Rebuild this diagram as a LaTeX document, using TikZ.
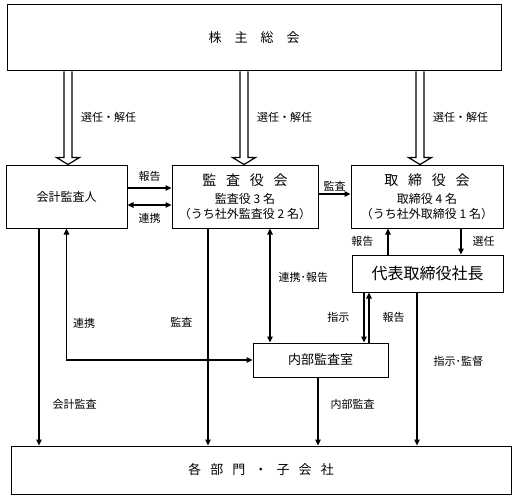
\documentclass[tikz,border=0pt]{standalone}
\usepackage{fontspec}
\setmainfont{Noto Sans CJK JP}
\usetikzlibrary{calc,arrows.meta}
\newcommand{\jg}{\hspace{.7em}}
\tikzset{
  arr/.tip={Triangle[length=6pt,width=5.5pt]},
  box/.style={draw, line width=1pt, align=center, inner sep=0pt, font=\fontsize{12}{15}\selectfont},
  conn/.style={line width=1.1pt, -arr},
  both/.style={line width=1.1pt, arr-arr},
  hollow/.style={draw, line width=1.2pt, fill=white},
  lab/.style={font=\fontsize{11}{13}\selectfont, inner sep=0pt},
}
\begin{document}
\begin{tikzpicture}[x=1pt, y=-1pt]
  \useasboundingbox (0,0) rectangle (516,500);

  % boxes
  \node[box, minimum width=494pt, minimum height=66pt, font=\fontsize{13}{15}\selectfont] (gm) at (254,38) {株　主　総　会};
  \node[box, minimum width=121pt, minimum height=63pt] (kaikei) at (66.5,196.5) {会計監査人};
  \node[box, minimum width=146pt, minimum height=63pt] (kansa) at (245,196.5)
    {{\fontsize{14}{16}\selectfont 監\jg 査\jg 役\jg 会}\\[3pt]監査役 3 名\\（うち社外監査役 2 名）};
  \node[box, minimum width=152pt, minimum height=63pt] (tori) at (427,196.5)
    {{\fontsize{14}{16}\selectfont 取\jg 締\jg 役\jg 会}\\[3pt]取締役 4 名\\（うち社外取締役 1 名）};
  \node[box, minimum width=151pt, minimum height=37pt, font=\fontsize{16}{18}\selectfont] (daihyo) at (427.5,273.5) {代表取締役社長};
  \node[box, minimum width=135pt, minimum height=34pt, font=\fontsize{13}{15}\selectfont] (naibu) at (320.5,360) {内部監査室};
  \node[box, minimum width=500pt, minimum height=48pt, font=\fontsize{13}{15}\selectfont] (bumon) at (261,470)
    {各\jg 部\jg 門\jg ・\jg 子\jg 会\jg 社};

  % hollow arrows from the general meeting
  \foreach \n/\dx in {kaikei/1.5, kansa/-1, tori/-7} {
    \coordinate (t) at ($(\n.north)+(\dx,0)$);
    \coordinate (top) at (t |- gm.south);
    \draw[hollow] ($(top)+(-4,0)$) -- ($(t)+(-4,-7)$) -- ($(t)+(-11.5,-7)$) -- (t)
      -- ($(t)+(11.5,-7)$) -- ($(t)+(4,-7)$) -- ($(top)+(4,0)$);
    \node[lab, anchor=west] (sel\n) at ($(t)+(13,-47)$) {選任・解任};
  }

  % auditor <-> board of auditors
  \draw[conn] ($(kaikei.east)+(0,-8.5)$) coordinate (r1) -- (r1 -| kansa.west)
    node[lab, midway, above=6pt] (l1) {報告};
  \draw[both] ($(kaikei.east)+(0,8.5)$) coordinate (r2) -- (r2 -| kansa.west)
    node[lab, midway, below=7.5pt] (l2) {連携};
  \draw[conn] ($(kansa.east)+(0,-2.5)$) coordinate (r3) -- (r3 -| tori.west)
    node[lab, midway, above=2pt] (l3) {監査};

  % board <-> president
  \draw[conn] ($(daihyo.north)+(-39.5,0)$) coordinate (r4) -- (r4 |- tori.south)
    node[lab, midway, left=14pt] (l4) {報告};
  \draw[conn] ($(tori.south)+(34,0)$) coordinate (r5) -- (r5 |- daihyo.north)
    node[lab, midway, right=11pt] (l5) {選任};

  % down to the departments
  \draw[conn] ($(kaikei.south)+(-27.5,0)$) coordinate (r6) -- (r6 |- bumon.north)
    node[lab, pos=0.81, right=13pt] (l6) {会計監査};
  \draw[both] (kaikei.south) |- (naibu.west)
    node[lab, pos=0.36, right=6pt] (l7) {連携};
  \draw[conn] ($(kansa.south)+(-37,0)$) coordinate (r7) -- (r7 |- bumon.north)
    node[lab, pos=0.43, left=15pt] (l8) {監査};
  \draw[both] ($(kansa.south)+(25,0)$) coordinate (r8) -- (r8 |- naibu.north)
    node[lab, pos=0.43, right=8pt] (l9) {連携･報告};

  % president <-> internal audit
  \draw[conn] ($(daihyo.south)+(-63.5,0)$) coordinate (r9) -- (r9 |- naibu.north)
    node[lab, midway, left=14pt] (l10) {指示};
  \coordinate (r10) at ($(daihyo.south)+(-58.5,0)$);
  \draw[conn] (r10 |- naibu.north) -- (r10)
    node[lab, midway, right=13pt] (l11) {報告};
  \draw[conn] ($(daihyo.south)+(-10.5,0)$) coordinate (r11) -- (r11 |- bumon.north)
    node[lab, pos=0.45, right=16pt] (l12) {指示･監督};
  \draw[conn] ($(naibu.south)+(-2.5,0)$) coordinate (r12) -- (r12 |- bumon.north)
    node[lab, pos=0.39, right=12pt] (l13) {内部監査};
\end{tikzpicture}
\end{document}
